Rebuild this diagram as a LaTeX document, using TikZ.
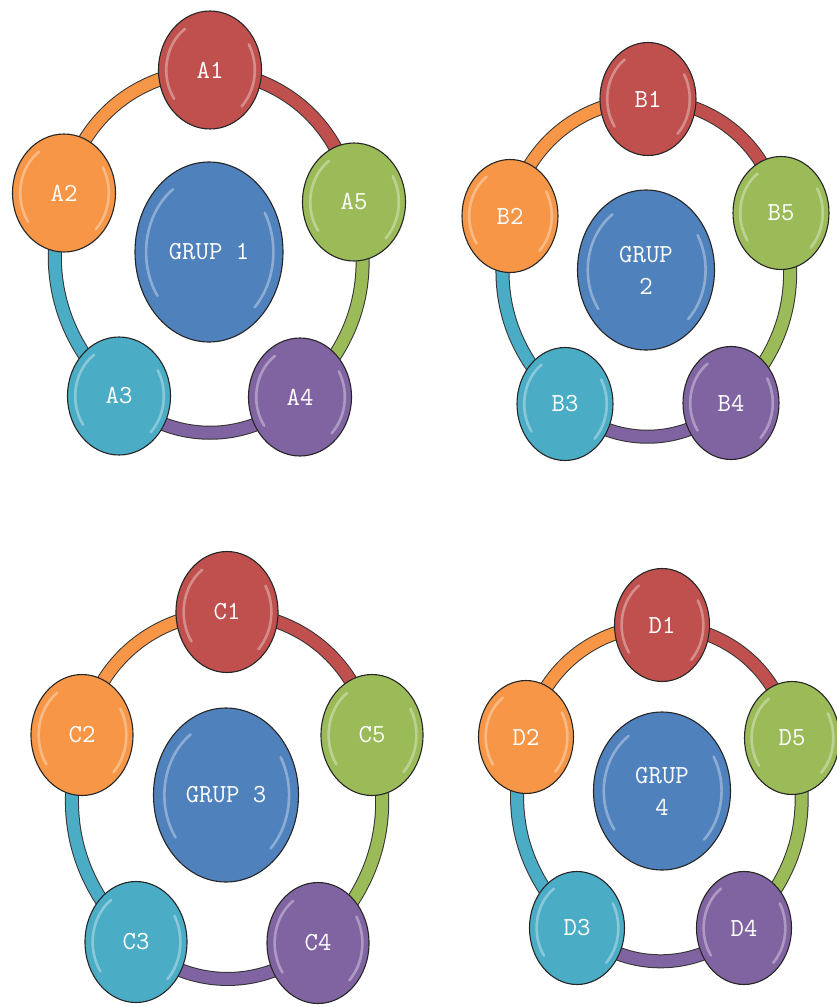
\documentclass[tikz,border=0pt]{standalone}
\usetikzlibrary{shapes.geometric,calc}
\definecolor{cRed}{HTML}{C0504D}
\definecolor{cOrange}{HTML}{F79646}
\definecolor{cGreen}{HTML}{9BBB59}
\definecolor{cPurple}{HTML}{8064A2}
\definecolor{cAqua}{HTML}{4BACC6}
\definecolor{cBlue}{HTML}{4F81BD}
\pgfdeclarelayer{bg}
\pgfsetlayers{bg,main}
\tikzset{
  gloss/.style={path picture={
    \draw[white, opacity=0.35, line width=2.6pt, line cap=round]
      let \p1=(path picture bounding box.north east), \p2=(path picture bounding box.center),
          \n1={\x1-\x2}, \n2={\y1-\y2} in
      ($(\p2)+(125:{0.85*\n1} and {0.85*\n2})$) arc[start angle=125, end angle=215, x radius={0.85*\n1}, y radius={0.85*\n2}]
      ($(\p2)+(-45:{0.87*\n1} and {0.87*\n2})$) arc[start angle=-45, end angle=30, x radius={0.87*\n1}, y radius={0.87*\n2}];
  }},
  ball/.style={ellipse, draw=black!85, line width=1.1pt, fill=#1, text=white, inner sep=0pt,
    font=\ttfamily\fontsize{26}{32}\selectfont, align=center, gloss},
  band/.style={draw=black!80, line width=1pt, double=#1, double distance=12pt},
  smallA/.style={minimum width=103pt, minimum height=118pt},
  bigA/.style={minimum width=148pt, minimum height=180pt},
  smallB/.style={minimum width=96pt, minimum height=113pt},
  bigB/.style={minimum width=137pt, minimum height=160pt},
  smallC/.style={minimum width=102pt, minimum height=121pt},
  bigC/.style={minimum width=145pt, minimum height=174pt},
  smallD/.style={minimum width=95pt, minimum height=113pt},
  bigD/.style={minimum width=137pt, minimum height=158pt},
}
\begin{document}
\begin{tikzpicture}[x=1pt,y=1pt]
\useasboundingbox (0,0) rectangle (837,-1007);
% Group 1
\node[ball=cRed, smallA]    (A1) at (210,-70)  {A1};
\node[ball=cOrange, smallA] (A2) at (64,-193)  {A2};
\node[ball=cGreen, smallA]  (A5) at (354,-202) {A5};
\node[ball=cAqua, smallA]   (A3) at (119,-396) {A3};
\node[ball=cPurple, smallA] (A4) at (300,-397) {A4};
\node[ball=cBlue, bigA]     (G1) at (209,-252) {GRUP 1};
% Group 2
\node[ball=cRed, smallB]    (B1) at (648,-99)  {B1};
\node[ball=cOrange, smallB] (B2) at (510,-216) {B2};
\node[ball=cGreen, smallB]  (B5) at (781,-213) {B5};
\node[ball=cAqua, smallB]   (B3) at (565,-404) {B3};
\node[ball=cPurple, smallB] (B4) at (731,-403) {B4};
\node[ball=cBlue, bigB]     (G2) at (646,-270) {GRUP\\2};
% Group 3
\node[ball=cRed, smallC]    (C1) at (227,-612) {C1};
\node[ball=cOrange, smallC] (C2) at (82,-735)  {C2};
\node[ball=cGreen, smallC]  (C5) at (372,-735) {C5};
\node[ball=cAqua, smallC]   (C3) at (136,-942) {C3};
\node[ball=cPurple, smallC] (C4) at (318,-943) {C4};
\node[ball=cBlue, bigC]     (G3) at (226,-795) {GRUP 3};
% Group 4
\node[ball=cRed, smallD]    (D1) at (662,-625) {D1};
\node[ball=cOrange, smallD] (D2) at (526,-737) {D2};
\node[ball=cGreen, smallD]  (D5) at (792,-738) {D5};
\node[ball=cAqua, smallD]   (D3) at (577,-928) {D3};
\node[ball=cPurple, smallD] (D4) at (744,-928) {D4};
\node[ball=cBlue, bigD]     (G4) at (662,-791) {GRUP\\4};
\begin{pgfonlayer}{bg}
\foreach \g in {A,B,C,D}{
  \draw[band=cRed]    (\g1.center) to[bend left=38] (\g5.center);
  \draw[band=cGreen]  (\g5.center) to[bend left=31] (\g4.center);
  \draw[band=cPurple] (\g4.center) to[bend left=43] (\g3.center);
  \draw[band=cAqua]   (\g3.center) to[bend left=31] (\g2.center);
  \draw[band=cOrange] (\g2.center) to[bend left=38] (\g1.center);
}
\end{pgfonlayer}
\end{tikzpicture}
\end{document}
